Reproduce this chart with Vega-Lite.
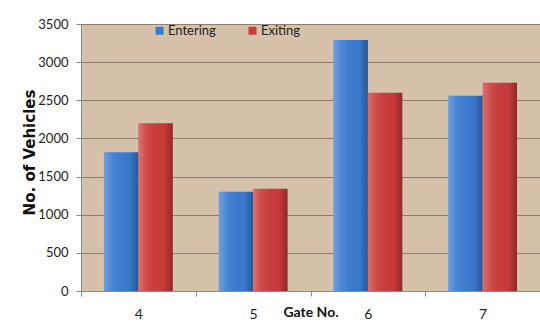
{
  "$schema": "https://vega.github.io/schema/vega-lite/v6.json",
  "width": 459,
  "height": 267,
  "autosize": {"type": "none"},
  "padding": {"left": 81, "top": 24, "right": 0, "bottom": 36},
  "background": "white",
  "config": {
    "view": {"fill": "#d6c2aa", "stroke": null},
    "font": "Lato"
  },
  "data": {
    "values": [
      {"gate": "4", "direction": "Entering", "vehicles": 1820},
      {"gate": "4", "direction": "Exiting", "vehicles": 2200},
      {"gate": "5", "direction": "Entering", "vehicles": 1300},
      {"gate": "5", "direction": "Exiting", "vehicles": 1340},
      {"gate": "6", "direction": "Entering", "vehicles": 3290},
      {"gate": "6", "direction": "Exiting", "vehicles": 2600},
      {"gate": "7", "direction": "Entering", "vehicles": 2560},
      {"gate": "7", "direction": "Exiting", "vehicles": 2730}
    ]
  },
  "encoding": {
    "x": {
      "field": "gate",
      "type": "nominal",
      "scale": {"paddingInner": 0, "paddingOuter": 0},
      "axis": {
        "title": "Gate No.",
        "titleFont": "Lato",
        "titleFontSize": 14,
        "titleFontWeight": "bold",
        "titleColor": "#111",
        "titleBaseline": "middle",
        "titleY": 21,
        "labelAngle": 0,
        "labelFont": "Lato",
        "labelFontSize": 14,
        "labelColor": "#222",
        "labelPadding": 11,
        "tickBand": "extent",
        "tickSize": 5,
        "tickColor": "#8a8a8a",
        "domainColor": "#8a8a8a",
        "grid": false
      }
    },
    "xOffset": {
      "field": "direction",
      "type": "nominal",
      "sort": ["Entering", "Exiting"],
      "scale": {"paddingInner": 0, "paddingOuter": 0.667}
    },
    "y": {
      "field": "vehicles",
      "type": "quantitative",
      "scale": {"domain": [0, 3500], "nice": false},
      "axis": {
        "title": "No. of Vehicles",
        "titleFont": "DejaVu Sans",
        "titleFontSize": 15,
        "titleFontWeight": "bold",
        "titleColor": "#111",
        "titleAngle": -90,
        "titleBaseline": "middle",
        "titleAlign": "center",
        "titleX": -52,
        "titleY": 128,
        "values": [0, 500, 1000, 1500, 2000, 2500, 3000, 3500],
        "format": "d",
        "labelFont": "Lato",
        "labelFontSize": 13,
        "labelColor": "#222",
        "labelPadding": 8,
        "tickSize": 5,
        "tickColor": "#8a8a8a",
        "domainColor": "#8a8a8a",
        "grid": true,
        "gridColor": "#8c7f70",
        "gridOpacity": 1,
        "gridWidth": 1
      }
    }
  },
  "layer": [
    {
      "mark": {"type": "bar"},
      "encoding": {
        "color": {
          "field": "direction",
          "type": "nominal",
          "sort": ["Entering", "Exiting"],
          "scale": {"domain": ["Entering", "Exiting"], "range": ["#3a7bd0", "#cc3a3a"]},
          "legend": {
            "title": null,
            "orient": "none",
            "direction": "horizontal",
            "legendX": 72,
            "legendY": 0,
            "padding": 0,
            "symbolType": "square",
            "symbolSize": 64,
            "symbolStrokeWidth": 0,
            "labelFont": "Lato",
            "labelFontSize": 13,
            "labelColor": "#222",
            "labelOffset": 2,
            "columnPadding": 30
          }
        }
      }
    },
    {
      "mark": {
        "type": "bar",
        "color": {
          "gradient": "linear",
          "x1": 0, "y1": 0, "x2": 1, "y2": 0,
          "stops": [
            {"offset": 0, "color": "rgba(255,255,255,0.28)"},
            {"offset": 0.25, "color": "rgba(255,255,255,0.08)"},
            {"offset": 0.75, "color": "rgba(0,0,0,0.02)"},
            {"offset": 1, "color": "rgba(0,0,0,0.3)"}
          ]
        }
      }
    }
  ]
}
